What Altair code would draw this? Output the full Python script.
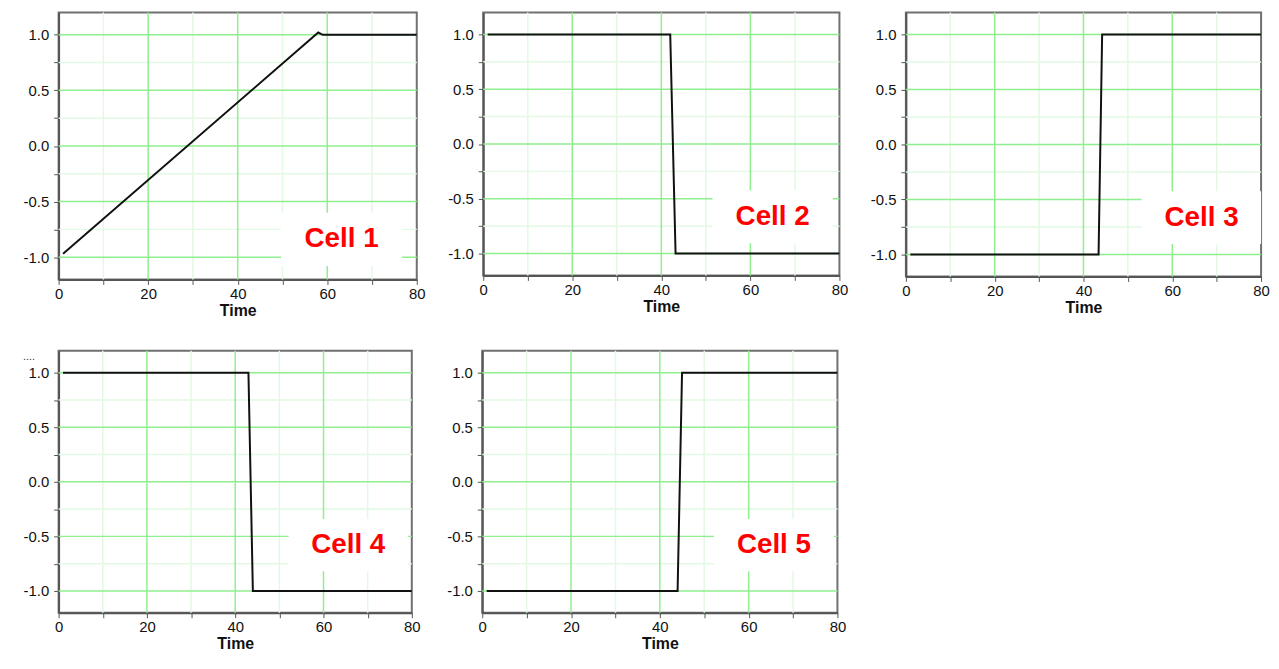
import altair as alt
import pandas as pd

# ---- data ----
t1 = [1, 58, 59, 80]
v1 = [-0.97, 1.02, 1.0, 1.0]
t2 = [1, 42, 43.2, 80]
v2 = [1.0, 1.0, -1.0, -1.0]
t3 = [1, 43.4, 44.2, 80]
v3 = [-1.0, -1.0, 1.0, 1.0]
t4 = [1, 43, 44, 80]
v4 = [1.0, 1.0, -1.0, -1.0]
t5 = [1, 44, 45, 80]
v5 = [-1.0, -1.0, 1.0, 1.0]

labels = ["Cell 1", "Cell 2", "Cell 3", "Cell 4", "Cell 5"]
label_t = [63.2, 65.0, 66.6, 65.6, 65.7]
label_v = [-0.84, -0.665, -0.665, -0.58, -0.58]

x_ticks = [0, 10, 20, 30, 40, 50, 60, 70, 80]
y_ticks = [-1.0, -0.75, -0.5, -0.25, 0.0, 0.25, 0.5, 0.75, 1.0]
major_x = [20, 40, 60]
minor_x = [10, 30, 50, 70]
major_y = [-1.0, -0.5, 0.0, 0.5, 1.0]
minor_y = [-0.75, -0.25, 0.25, 0.75]

FONT = "Liberation Sans"
MAJOR = "#8fef8f"
MINOR = "#e3f9e3"
AX = "#555555"

xs = alt.Scale(domain=[0, 80], nice=False, zero=False)
ys = alt.Scale(domain=[-1.2, 1.2], nice=False, zero=False)
XAXIS = alt.Axis(values=x_ticks, grid=False, title="Time",
                 labelExpr="datum.value % 20 == 0 ? datum.label : ''",
                 labelFont=FONT, labelFontSize=15, labelColor="#111",
                 labelPadding=2, tickSize=5, tickColor=AX, domainColor=AX,
                 domainWidth=2, titleFont=FONT, titleFontSize=16,
                 titleFontWeight="bold", titleColor="#111", titlePadding=1,
                 labelFlush=False)
YAXIS = alt.Axis(values=y_ticks, grid=False, title=None,
                 labelExpr="abs(datum.value*2 - round(datum.value*2)) < 0.001 ? (datum.value < 0 ? '-' : '') + format(abs(datum.value), '.1f') : ''",
                 labelFont=FONT, labelFontSize=15, labelColor="#111",
                 labelPadding=5, tickSize=5, tickColor=AX, domainColor=AX,
                 domainWidth=2, labelFlush=False)


def X(f):
    return alt.X(f, scale=xs, axis=XAXIS)


def Y(f):
    return alt.Y(f, scale=ys, axis=YAXIS)


def panel(t, v, idx, w, h, dots=False):
    gx_minor = alt.Chart(pd.DataFrame({"Time": minor_x})).mark_rule(
        color=MINOR, strokeWidth=1.5).encode(x=X("Time:Q"))
    gy_minor = alt.Chart(pd.DataFrame({"Value": minor_y})).mark_rule(
        color=MINOR, strokeWidth=1.5).encode(y=Y("Value:Q"))
    gx_major = alt.Chart(pd.DataFrame({"Time": major_x})).mark_rule(
        color=MAJOR, strokeWidth=1.5).encode(x=X("Time:Q"))
    gy_major = alt.Chart(pd.DataFrame({"Value": major_y})).mark_rule(
        color=MAJOR, strokeWidth=1.5).encode(y=Y("Value:Q"))
    lab = pd.DataFrame({"Time": [label_t[idx]], "Value": [label_v[idx]],
                        "t0": [label_t[idx] - 13.5], "t1": [min(label_t[idx] + 13.5, 80)],
                        "v0": [label_v[idx] - 0.24], "v1": [label_v[idx] + 0.24],
                        "txt": [labels[idx]]})
    box = alt.Chart(lab).mark_rect(color="white").encode(
        x=X("t0:Q"), x2="t1:Q", y=Y("v0:Q"), y2="v1:Q")
    line = alt.Chart(pd.DataFrame({"Time": t, "Value": v})).mark_line(
        color="#111", strokeWidth=2).encode(x=X("Time:Q"), y=Y("Value:Q"))
    text = alt.Chart(lab).mark_text(font=FONT, fontSize=28, fontWeight="bold",
                                    color="#ff0000").encode(
        x=X("Time:Q"), y=Y("Value:Q"), text="txt:N")
    layers = [gx_minor, gy_minor, gx_major, gy_major, box, line, text]
    if dots:
        layers.append(alt.Chart(pd.DataFrame({"s": ["...."]})).mark_text(
            font=FONT, fontSize=11, align="left", baseline="middle", color="#333"
        ).encode(x=alt.value(-36), y=alt.value(6), text="s:N"))
    return alt.layer(*layers).properties(width=w, height=h)


p1 = panel(t1, v1, 0, 361, 269)
p2 = panel(t2, v2, 1, 359, 265)
p3 = panel(t3, v3, 2, 358, 266)
p4 = panel(t4, v4, 3, 356, 264, dots=True)
p5 = panel(t5, v5, 4, 358, 264)

row1 = alt.hconcat(p1, p2, p3, spacing=20)
row2 = alt.hconcat(p4, p5, spacing=24)

chart = alt.vconcat(row1, row2, spacing=30).properties(
    padding={"left": 14, "top": 0, "right": 0, "bottom": 0}
).configure_view(stroke="#707070", strokeWidth=2)

chart.save("out.html", embed_options={"renderer": "svg", "actions": False})
